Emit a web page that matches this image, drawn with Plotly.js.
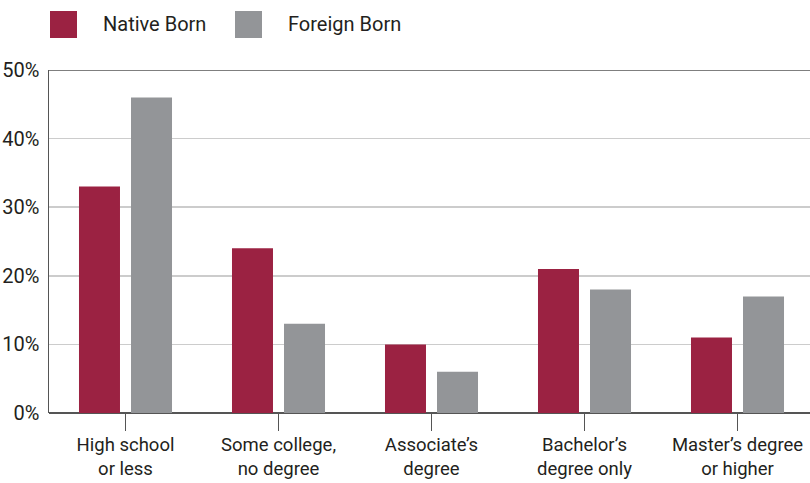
<!DOCTYPE html>
<html>
<head>
<meta charset="utf-8">
<script src="https://cdn.plot.ly/plotly-3.0.1.min.js"></script>
<style>html,body{margin:0;padding:0;background:#fff;}#chart{width:810px;height:483px;}</style>
</head>
<body>
<div id="chart"></div>
<script>
var categories = ["High school<br>or less", "Some college,<br>no degree", "Associate\u2019s<br>degree", "Bachelor\u2019s<br>degree only", "Master\u2019s degree<br>or higher"];
var seriesNames = ["Native Born", "Foreign Born"];
var nativeBorn = [0.33, 0.24, 0.10, 0.21, 0.11];
var foreignBorn = [0.46, 0.13, 0.06, 0.18, 0.17];
var yTicks = [0, 0.1, 0.2, 0.3, 0.4, 0.5];
var yTickLabels = ["0%", "10%", "20%", "30%", "40%", "50%"];

var colors = ["#9b2242", "#939598"];
var W = 810, H = 483, L = 49, R = 0, T = 70, B = 70;
var pw = W - L - R, ph = H - T - B;
function px(x){ return (x - L) / pw; }
function py(y){ return (H - B - y) / ph; }

var font = "Roboto, 'Liberation Sans', Arial, sans-serif";
var txt = "#231f20";

var traces = [
  {type: "bar", name: seriesNames[0], x: [0,1,2,3,4], y: nativeBorn, marker: {color: colors[0]}, showlegend: false, hoverinfo: "skip"},
  {type: "bar", name: seriesNames[1], x: [0,1,2,3,4], y: foreignBorn, marker: {color: colors[1]}, showlegend: false, hoverinfo: "skip"}
];

var shapes = [
  {type: "line", xref: "paper", yref: "y", x0: 0, x1: 1, y0: 0.5, y1: 0.5, line: {color: "#555555", width: 1.5}},
  {type: "rect", xref: "paper", yref: "paper", x0: px(50), x1: px(77), y0: py(11), y1: py(38), fillcolor: colors[0], line: {width: 0}},
  {type: "rect", xref: "paper", yref: "paper", x0: px(235), x1: px(262), y0: py(11), y1: py(38), fillcolor: colors[1], line: {width: 0}}
];
var annotations = [
  {xref: "paper", yref: "paper", x: px(101), y: py(24), xanchor: "left", yanchor: "middle", text: seriesNames[0], showarrow: false, font: {family: font, size: 20, color: txt}},
  {xref: "paper", yref: "paper", x: px(286), y: py(24), xanchor: "left", yanchor: "middle", text: seriesNames[1], showarrow: false, font: {family: font, size: 20, color: txt}}
];

var layout = {
  width: W, height: H,
  margin: {l: L, r: R, t: T, b: B, pad: 0},
  paper_bgcolor: "#ffffff", plot_bgcolor: "#ffffff",
  barmode: "group", bargap: 0.32, bargroupgap: 0.212,
  xaxis: {
    range: [-0.5, -0.5 + pw / 153],
    tickmode: "array", tickvals: [0,1,2,3,4], ticktext: categories,
    tickson: "boundaries", ticks: "outside", ticklen: 17, tickwidth: 1.2, tickcolor: "#555555",
    showgrid: false, zeroline: false, showline: false,
    ticklabelstandoff: -2,
    tickfont: {family: font, size: 18.5, color: txt},
    fixedrange: true
  },
  yaxis: {
    range: [0, 0.5],
    tickmode: "array", tickvals: yTicks, ticktext: yTickLabels,
    showgrid: true, gridcolor: "#cccccc", gridwidth: 1.5,
    zeroline: true, zerolinecolor: "#555555", zerolinewidth: 1.5,
    showline: true, linecolor: "#555555", linewidth: 1.5,
    ticks: "", ticklabelstandoff: 4,
    tickfont: {family: font, size: 20, color: txt},
    fixedrange: true
  },
  shapes: shapes,
  annotations: annotations,
  showlegend: false
};

Plotly.newPlot("chart", traces, layout, {displayModeBar: false, staticPlot: true});
</script>
</body>
</html>
